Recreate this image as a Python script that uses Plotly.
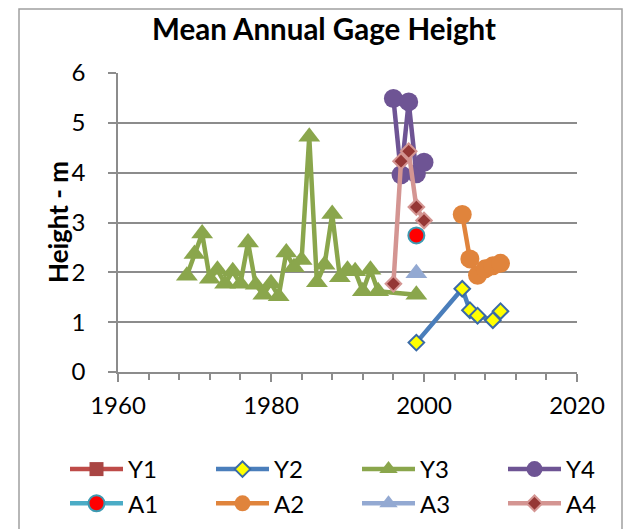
import plotly.graph_objects as go

# ---------------------------------------------------------------- data

y1_years = []
y1_height = []

y2_years = [1999, 2005, 2006, 2007, 2009, 2010]
y2_height = [0.59, 1.67, 1.24, 1.13, 1.04, 1.22]

y3_years = [1969, 1970, 1971, 1972, 1973, 1974, 1975, 1976, 1977, 1978,
            1979, 1980, 1981, 1982, 1983, 1984, 1985, 1986, 1987, 1988,
            1989, 1990, 1991, 1992, 1993, 1994, 1999]
y3_height = [1.93, 2.37, 2.78, 1.87, 2.05, 1.77, 2.02, 1.77, 2.6, 1.75,
             1.55, 1.78, 1.52, 2.4, 2.1, 2.25, 4.72, 1.8, 2.15, 3.17,
             1.9, 2.05, 2.02, 1.62, 2.05, 1.62, 1.55]

y4_years = [1996, 1997, 1998, 1999, 2000]
y4_height = [5.49, 3.96, 5.42, 3.98, 4.21]

a1_years = [1999]
a1_height = [2.74]

a2_years = [2005, 2006, 2007, 2008, 2009, 2010]
a2_height = [3.16, 2.27, 1.94, 2.07, 2.13, 2.18]

a3_years = [1999]
a3_height = [1.98]

a4_years = [1996, 1997, 1998, 1999, 2000]
a4_height = [1.77, 4.23, 4.43, 3.31, 3.04]

x_ticks = [1960, 1980, 2000, 2020]
y_ticks = [0, 1, 2, 3, 4, 5, 6]

# ---------------------------------------------------------------- styling

FONT = "Lato"
GRID = "#8C8C8C"

# the page puts the figure 8px in from the window corner
OFF = 8
W, H = 637 - OFF, 529 - OFF
L, T = 118 - OFF, 73 - OFF
R, B = W - (577 - OFF), H - (372 - OFF)
PW, PH = W - L - R, H - T - B


def px(xp):
    # window pixel -> paper x
    return (xp - OFF - L) / PW


def py(yp):
    # window pixel -> paper y
    return (H - B - (yp - OFF)) / PH


def series(name, xs, ys, line, symbol, size, fill, edge, edge_w, legend):
    return go.Scatter(
        x=xs if xs else [None], y=ys if ys else [None],
        name=name, mode="lines+markers",
        line=dict(color=line, width=4.5),
        marker=dict(symbol=symbol, size=size, color=fill,
                    line=dict(color=edge, width=edge_w)),
        legend=legend,
    )


traces = [
    series("Y1", y1_years, y1_height, "#BE4B48", "square", 14, "#A94543", "#A94543", 0, "legend"),
    series("Y2", y2_years, y2_height, "#4A7EBB", "diamond", 12, "#FFFF00", "#3A6AA6", 2, "legend2"),
    series("Y3", y3_years, y3_height, "#8AA64C", "triangle-up", 19, "#8AA64C", "#8AA64C", 0, "legend3"),
    series("Y4", y4_years, y4_height, "#6E5494", "circle", 19, "#6E5494", "#6E5494", 0, "legend4"),
    series("A1", a1_years, a1_height, "#4BACC6", "circle", 16, "#FF0000", "#3C9AB2", 2, "legend"),
    series("A2", a2_years, a2_height, "#E0843C", "circle", 19, "#E0843C", "#E0843C", 0, "legend2"),
    series("A3", a3_years, a3_height, "#93A9D2", "triangle-up", 19, "#93A9D2", "#93A9D2", 0, "legend3"),
    series("A4", a4_years, a4_height, "#D49592", "diamond", 12, "#953735", "#D49592", 2, "legend4"),
]

fig = go.Figure(traces)


def legend_at(xp):
    return dict(
        orientation="v", xanchor="left", yanchor="top",
        x=px(xp), y=py(447),
        font=dict(family=FONT, size=24, color="black"),
        itemwidth=53,
        bgcolor="rgba(0,0,0,0)", tracegroupgap=0,
    )


fig.update_layout(
    template="none",
    width=W, height=H,
    margin=dict(l=L, r=R, t=T, b=B, pad=0, autoexpand=False),
    paper_bgcolor="white", plot_bgcolor="white",
    font=dict(family=FONT, color="black"),
    title=dict(text="<b>Mean Annual Gage Height</b>",
               font=dict(family=FONT, size=29.5, color="black"),
               x=(324 - OFF) / W, xref="container", xanchor="center",
               y=1 - (30 - OFF) / H, yref="container", yanchor="middle"),
    legend=legend_at(65),
    legend2=legend_at(211),
    legend3=legend_at(357),
    legend4=legend_at(503),
    xaxis=dict(
        range=[1960, 2020], tickvals=x_ticks, automargin=False,
        showgrid=False, zeroline=False,
        showline=True, linecolor=GRID, linewidth=1.5,
        ticks="outside", ticklen=8, tickcolor=GRID, tickwidth=1.5,
        minor=dict(dtick=4, tick0=1960, ticks="outside", ticklen=6,
                   tickcolor=GRID, tickwidth=1.5, showgrid=False),
        tickfont=dict(family=FONT, size=24, color="black"),
        ticklabelstandoff=3,
    ),
    yaxis=dict(
        range=[0, 6], tickvals=y_ticks, automargin=False,
        showgrid=True, gridcolor=GRID, gridwidth=1.5,
        zeroline=False,
        showline=True, linecolor=GRID, linewidth=1.5,
        ticks="outside", ticklen=8, tickcolor=GRID, tickwidth=1.5,
        tickfont=dict(family=FONT, size=24, color="black"),
        ticklabelstandoff=18,
    ),
    annotations=[
        dict(text="<b>Height - m</b>", textangle=-90, showarrow=False,
             xref="paper", yref="paper", x=px(58), y=py(222),
             xanchor="center", yanchor="middle",
             font=dict(family=FONT, size=26, color="black")),
    ],
    shapes=[
        # spreadsheet cell border on the right
        dict(type="line", xref="paper", yref="paper", x0=px(632), x1=px(632),
             y0=py(OFF), y1=py(529), line=dict(color="black", width=2)),
        # chart area frame
        dict(type="rect", xref="paper", yref="paper", x0=px(19), x1=px(622),
             y0=py(OFF + 1), y1=py(540), line=dict(color="#A0A0A0", width=1.5)),
    ],
)

fig.write_html("out.html")
